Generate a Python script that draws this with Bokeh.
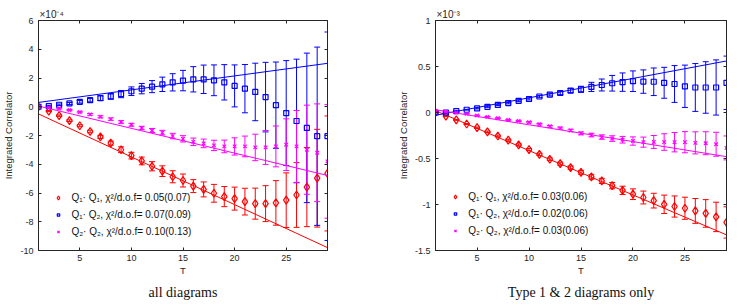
import numpy as np
from bokeh.plotting import figure
from bokeh.models import (ColumnDataSource, Whisker, TeeHead, Range1d, FixedTicker,
                          LinearAxis, Legend, LegendItem, Title, CustomJSTickFormatter)
from bokeh.layouts import row
from bokeh.embed import file_html
from bokeh.resources import INLINE

# ---------------- data ----------------
T = list(range(1, 30))
FIT_T = [1, 29]

# left panel: all diagrams (units of 1e-4)
L_Q11 = [0.0, -0.30, -0.62, -0.97, -1.32, -1.72, -2.10, -2.53, -2.99, -3.40, -3.77, -4.14, -4.48, -4.87,
         -5.13, -5.52, -5.75, -6.02, -6.25, -6.39, -6.60, -6.74, -6.74, -6.69, -6.50, -6.14, -5.59, -4.97, -4.64]
L_Q11_ERR = [0.02, 0.04, 0.05, 0.06, 0.07, 0.09, 0.11, 0.14, 0.20, 0.23, 0.27, 0.32, 0.37, 0.42,
             0.45, 0.45, 0.52, 0.62, 0.70, 0.80, 0.93, 1.08, 1.25, 1.55, 1.90, 2.25, 2.75, 3.40, 4.00]
L_Q12 = [0.0, 0.05, 0.14, 0.23, 0.34, 0.46, 0.60, 0.72, 0.88, 1.08, 1.26, 1.40, 1.56, 1.70,
         1.82, 1.91, 1.91, 1.84, 1.70, 1.45, 1.26, 1.03, 0.67, 0.11, -0.44, -0.99, -1.47, -2.05, -2.05]
L_Q12_ERR = [0.02, 0.03, 0.05, 0.07, 0.09, 0.12, 0.16, 0.20, 0.25, 0.30, 0.36, 0.42, 0.50, 0.60,
             0.71, 0.88, 0.99, 1.07, 1.23, 1.46, 1.68, 2.00, 2.42, 3.00, 3.65, 4.30, 5.20, 6.20, 7.25]
L_Q22 = [0.0, -0.04, -0.12, -0.23, -0.37, -0.53, -0.70, -0.86, -1.06, -1.25, -1.48, -1.65, -1.80, -2.04,
         -2.23, -2.44, -2.55, -2.69, -2.76, -2.76, -2.76, -2.83, -2.83, -2.76, -2.64, -2.76, -2.99, -3.20, -3.80]
L_Q22_ERR = [0.01, 0.02, 0.03, 0.04, 0.05, 0.06, 0.07, 0.08, 0.09, 0.10, 0.12, 0.14, 0.16, 0.19,
             0.22, 0.26, 0.30, 0.36, 0.44, 0.60, 0.72, 0.92, 1.18, 1.42, 1.80, 2.50, 3.10, 3.40, 3.95]
L_FIT_Q11 = [-0.50, -9.80]
L_FIT_Q12 = [0.30, 3.02]
L_FIT_Q22 = [0.05, -4.78]
L_LABELS = ["Q\u2081\u00b7 Q\u2081, \u03c7\u00b2/d.o.f= 0.05(0.07)",
            "Q\u2081\u00b7 Q\u2082, \u03c7\u00b2/d.o.f= 0.07(0.09)",
            "Q\u2082\u00b7 Q\u2082, \u03c7\u00b2/d.o.f= 0.10(0.13)"]
L_YTICKS = [-10, -8, -6, -4, -2, 0, 2, 4, 6]

# right panel: type 1 & 2 diagrams only (units of 1e-3)
R_Q11 = [0.0, -0.04, -0.08, -0.125, -0.165, -0.21, -0.255, -0.30, -0.352, -0.403, -0.455, -0.508, -0.556, -0.60,
         -0.65, -0.70, -0.744, -0.795, -0.846, -0.888, -0.924, -0.958, -0.998, -1.022, -1.041, -1.07, -1.097, -1.135, -1.195]
R_Q11_ERR = [0.003, 0.004, 0.005, 0.006, 0.007, 0.008, 0.009, 0.010, 0.011, 0.012, 0.013, 0.015, 0.017, 0.019,
             0.021, 0.024, 0.028, 0.034, 0.045, 0.058, 0.070, 0.080, 0.100, 0.115, 0.120, 0.135, 0.150, 0.160, 0.170]
R_Q12 = [0.0, 0.0, 0.016, 0.03, 0.044, 0.062, 0.082, 0.102, 0.127, 0.147, 0.174, 0.195, 0.212, 0.238,
         0.252, 0.278, 0.299, 0.318, 0.33, 0.34, 0.336, 0.334, 0.323, 0.31, 0.285, 0.272, 0.272, 0.272, 0.323]
R_Q12_ERR = [0.002, 0.003, 0.004, 0.004, 0.005, 0.006, 0.007, 0.008, 0.009, 0.011, 0.013, 0.015, 0.018, 0.022,
             0.033, 0.050, 0.065, 0.085, 0.100, 0.112, 0.127, 0.150, 0.168, 0.200, 0.230, 0.260, 0.280, 0.300, 0.290]
R_Q22 = [0.01, 0.01, 0.0, -0.015, -0.033, -0.047, -0.062, -0.08, -0.092, -0.106, -0.127, -0.15, -0.17, -0.195,
         -0.227, -0.245, -0.267, -0.283, -0.296, -0.31, -0.322, -0.32, -0.321, -0.323, -0.323, -0.33, -0.334, -0.345, -0.385]
R_Q22_ERR = [0.002, 0.002, 0.003, 0.003, 0.004, 0.004, 0.005, 0.005, 0.006, 0.007, 0.008, 0.009, 0.011, 0.013,
             0.016, 0.020, 0.024, 0.030, 0.036, 0.045, 0.055, 0.070, 0.090, 0.105, 0.115, 0.120, 0.125, 0.130, 0.130]
R_FIT_Q11 = [0.02, -1.33]
R_FIT_Q12 = [-0.03, 0.56]
R_FIT_Q22 = [0.03, -0.48]
R_LABELS = ["Q\u2081\u00b7 Q\u2081, \u03c7\u00b2/d.o.f= 0.03(0.06)",
            "Q\u2081\u00b7 Q\u2082, \u03c7\u00b2/d.o.f= 0.02(0.06)",
            "Q\u2082\u00b7 Q\u2082, \u03c7\u00b2/d.o.f= 0.03(0.06)"]
R_YTICKS = [-1.5, -1, -0.5, 0, 0.5, 1]

XTICKS = [5, 10, 15, 20, 25]

# ---------------- style ----------------
RED = "#ff0000"
BLUE = "#0000ff"
MAG = "#ff00ff"
AX = "#262626"
SANS = "Liberation Sans"
SERIF = "Liberation Serif"


def style_axis(ax, ticks, show_labels=True):
    ax.ticker = FixedTicker(ticks=ticks)
    ax.major_tick_in = 3
    ax.major_tick_out = 0
    ax.minor_tick_line_color = None
    ax.axis_line_color = AX
    ax.major_tick_line_color = AX
    ax.major_label_text_color = AX
    ax.major_label_text_font = SANS
    ax.major_label_text_font_size = "9px"
    ax.axis_label_text_font = SANS
    ax.axis_label_text_font_size = "9.5px"
    ax.axis_label_text_font_style = "normal"
    ax.axis_label_text_color = AX
    if show_labels:
        ax.formatter = CustomJSTickFormatter(code="return tick.toString();")
    else:
        ax.formatter = CustomJSTickFormatter(code="return '';")
        ax.major_label_standoff = 0


def make_panel(border_left, border_right, yr, yticks, series, fits, labels,
               exp_text, caption, leg_cx, leg_rows):
    p = figure(width=369, height=306, x_range=Range1d(1, 29), y_range=Range1d(*yr),
               output_backend="svg", toolbar_location=None,
               min_border_left=border_left, min_border_right=border_right,
               min_border_top=20, min_border_bottom=56)
    p.background_fill_color = "white"
    p.border_fill_color = "white"
    p.outline_line_color = AX
    p.xgrid.grid_line_color = None
    p.ygrid.grid_line_color = None

    style_axis(p.xaxis[0], XTICKS)
    p.xaxis[0].axis_label = "T"
    p.xaxis[0].major_label_standoff = 4
    p.xaxis[0].axis_label_standoff = 1
    style_axis(p.yaxis[0], yticks)
    p.yaxis[0].axis_label = "Integrated Correlator"
    p.yaxis[0].major_label_standoff = 5
    p.yaxis[0].axis_label_standoff = 3

    top = LinearAxis()
    style_axis(top, XTICKS, show_labels=False)
    p.add_layout(top, "above")
    right = LinearAxis()
    style_axis(right, yticks, show_labels=False)
    p.add_layout(right, "right")

    # legend glyph box widths per marker (controls legend marker size)
    glyph_w = {"diamond": 10, "square": 6, "x": 8}
    for (vals, errs, color, marker, size), fit, lab, ybot in zip(series, fits, labels, leg_rows):
        v = np.array(vals)
        e = np.array(errs)
        src = ColumnDataSource(dict(T=T, v=v, upper=v + e, lower=v - e))
        w = Whisker(base="T", upper="upper", lower="lower", source=src,
                    line_color=color, line_width=1,
                    upper_head=TeeHead(size=6, line_color=color, line_width=1),
                    lower_head=TeeHead(size=6, line_color=color, line_width=1))
        p.add_layout(w)
        p.line(FIT_T, fit, line_color=color, line_width=1)
        r = p.scatter("T", "v", source=src, marker=marker, size=size,
                      line_color=color, fill_color=None, line_width=1.2)
        gw = glyph_w[marker]
        leg = Legend(items=[LegendItem(label=lab, renderers=[r])],
                     location=(leg_cx - gw / 2, ybot), padding=0, margin=0, spacing=0,
                     glyph_width=gw, glyph_height=17, label_height=17,
                     label_standoff=int(13 - gw // 2),
                     label_text_font=SANS, label_text_font_size="10px",
                     label_text_color="#111111",
                     background_fill_alpha=0, border_line_color=None)
        p.add_layout(leg)

    cap = Title(text=caption, align="center", text_font=SERIF, text_font_size="14px",
                text_font_style="normal", text_color="#111111", standoff=8, offset=-6)
    p.add_layout(cap, "below")
    ex = Title(text=exp_text, align="left", text_font=SANS, text_font_size="10px",
               text_font_style="normal", text_color=AX, standoff=1, offset=1)
    p.add_layout(ex, "above")
    return p


p1 = make_panel(37, 42, (-10, 6), L_YTICKS,
                [(L_Q11, L_Q11_ERR, RED, "diamond", 8),
                 (L_Q12, L_Q12_ERR, BLUE, "square", 5),
                 (L_Q22, L_Q22_ERR, MAG, "x", 5)],
                [L_FIT_Q11, L_FIT_Q12, L_FIT_Q22], L_LABELS,
                "\u00d710\u207b\u2074", "all diagrams", 20.4, [43.8, 27.5, 9.8])

p2 = make_panel(66, 12, (-1.5, 1), R_YTICKS,
                [(R_Q11, R_Q11_ERR, RED, "diamond", 8),
                 (R_Q12, R_Q12_ERR, BLUE, "square", 5),
                 (R_Q22, R_Q22_ERR, MAG, "x", 5)],
                [R_FIT_Q11, R_FIT_Q12, R_FIT_Q22], R_LABELS,
                "\u00d710\u207b\u00b3", "Type 1 & 2 diagrams only", 20.3, [44.8, 28.5, 11.5])

layout = row(p1, p2, spacing=0)
open("out.html", "w").write(file_html(layout, INLINE))
